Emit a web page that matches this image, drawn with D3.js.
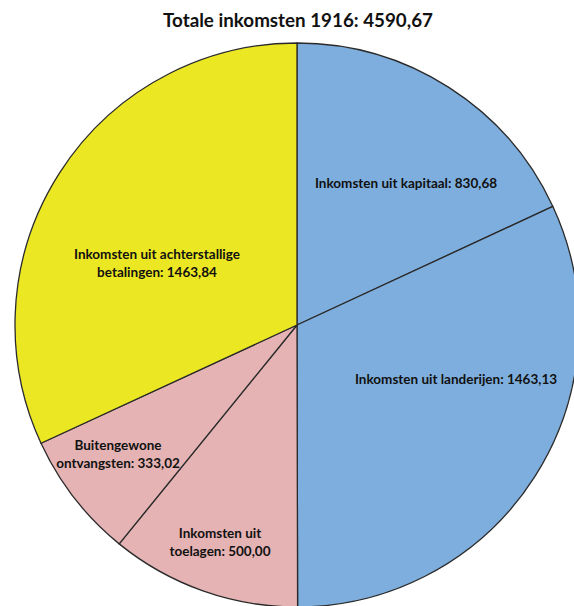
<html>
<head>
<style>
  body { margin: 0; background: #fff; }
</style>
</head>
<body>
<script src="https://cdn.jsdelivr.net/npm/d3@7"></script>

<div id="container1"></div>

<script>

const title = "Totale inkomsten 1916: 4590,67";

const categories = [
  ["Inkomsten uit kapitaal: 830,68"],
  ["Inkomsten uit landerijen: 1463,13"],
  ["Inkomsten uit", "toelagen: 500,00"],
  ["Buitengewone", "ontvangsten: 333,02"],
  ["Inkomsten uit achterstallige", "betalingen: 1463,84"]
];
const values = [830.68, 1463.13, 500.00, 333.02, 1463.84];
const colors = ["#7eaedd", "#7eaedd", "#e5b3b3", "#e5b3b3", "#ece723"];

// label anchor offsets from the pie centre (layout only)
const labelOffsets = [[109, -142], [159, 54], [-77, 217], [-179, 129], [-140, -62]];

const width = 574, height = 606;
const cx = 297, cy = 325, radius = 282;

const svg = d3.select("#container1")
  .append("svg")
    .attr("width", width)
    .attr("height", height);

const data = values.map((v, i) => ({value: v, lines: categories[i], color: colors[i], off: labelOffsets[i]}));

const pie = d3.pie()
    .value(d => d.value)
    .sort(null);

const arc = d3.arc()
    .innerRadius(0)
    .outerRadius(radius);

const g = svg.append("g")
    .attr("transform", `translate(${cx},${cy})`);

g.selectAll("path")
  .data(pie(data))
  .join("path")
    .attr("d", arc)
    .style("fill", d => d.data.color)
    .style("stroke", "#2a2a2a")
    .style("stroke-width", 1.3)
    .style("stroke-linejoin", "round");

const labels = g.selectAll("text.lbl")
  .data(data)
  .join("text")
    .attr("class", "lbl")
    .attr("text-anchor", "middle")
    .style("font-family", "Lato, 'Open Sans', sans-serif")
    .style("font-weight", "bold")
    .style("font-size", "13.5px")
    .style("fill", "#111");

labels.each(function(d) {
  const n = d.lines.length;
  d3.select(this).selectAll("tspan")
    .data(d.lines)
    .join("tspan")
      .attr("x", d.off[0])
      .attr("y", (t, j) => d.off[1] + (j - (n - 1) / 2) * 18)
      .attr("dy", "0.35em")
      .text(t => t);
});

svg.append("text")
    .attr("x", 298)
    .attr("y", 20)
    .attr("text-anchor", "middle")
    .attr("dy", "0.35em")
    .style("font-family", "Lato, 'Open Sans', sans-serif")
    .style("font-weight", "bold")
    .style("font-size", "18.8px")
    .style("fill", "#111")
    .text(title);

</script>
</body>
</html>
